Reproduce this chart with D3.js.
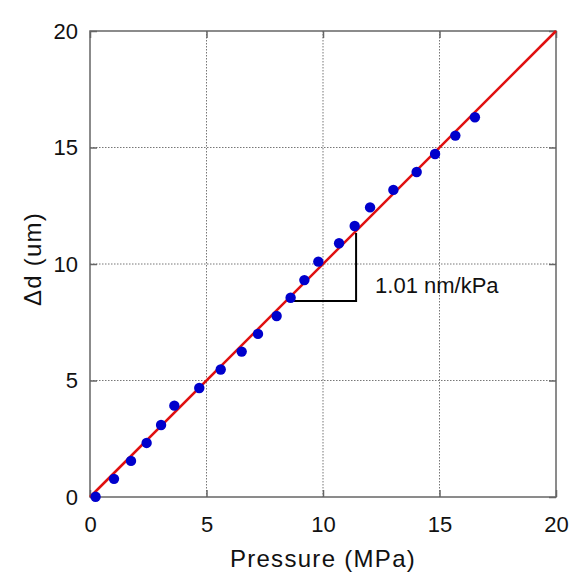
<!DOCTYPE html>
<html>
<head>
<meta charset="utf-8">
<script src="https://cdn.jsdelivr.net/npm/d3@7"></script>
<style>
  body { margin: 0; background: #fff; }
  text { font-family: "Liberation Sans", Arial, sans-serif; }
</style>
</head>
<body>
<div id="chart"></div>
<script>
// dades llegides del grafic
const pressio = [0.24, 1.03, 1.76, 2.43, 3.05, 3.62, 4.69, 5.61, 6.51, 7.21, 8.01, 8.61, 9.20, 9.80, 10.69, 11.36, 12.02, 13.02, 14.02, 14.81, 15.68, 16.52];
const deltaD = [0.01, 0.78, 1.55, 2.32, 3.09, 3.92, 4.68, 5.47, 6.24, 7.00, 7.77, 8.55, 9.31, 10.10, 10.89, 11.63, 12.43, 13.18, 13.95, 14.72, 15.51, 16.30];
const ticks = [0, 5, 10, 15, 20];
const ajust = [[0, 0], [20, 20]];
const triangle = [[8.47, 8.41], [11.42, 8.41], [11.42, 11.33]];
const etiquetaPendent = "1.01 nm/kPa";

const margin = {top: 31, right: 14, bottom: 77, left: 90};
const width = 570 - margin.left - margin.right;
const height = 574 - margin.top - margin.bottom;

const svg = d3.select("#chart")
    .append("svg")
        .attr("width", 570)
        .attr("height", 574)
    .append("g")
        .attr("transform", `translate(${margin.left}, ${margin.top})`);

const x = d3.scaleLinear().domain([0, 20]).range([0, width]);
const y = d3.scaleLinear().domain([0, 20]).range([height, 0]);

// graella puntejada
svg.append("g")
    .selectAll("line")
    .data(ticks.slice(1, 4))
    .enter().append("line")
        .attr("x1", d => x(d)).attr("x2", d => x(d))
        .attr("y1", 0).attr("y2", height)
        .attr("stroke", "#777").attr("stroke-width", 1)
        .attr("stroke-dasharray", "1.5,1.5");
svg.append("g")
    .selectAll("line")
    .data(ticks.slice(1, 4))
    .enter().append("line")
        .attr("y1", d => y(d)).attr("y2", d => y(d))
        .attr("x1", 0).attr("x2", width)
        .attr("stroke", "#777").attr("stroke-width", 1)
        .attr("stroke-dasharray", "1.5,1.5");

// eixos
function estilEix(g) {
    g.select(".domain").remove();
    g.selectAll("line").attr("stroke", "#666").attr("stroke-width", 1.5);
    g.selectAll("text").style("font-size", "22px").attr("fill", "#111");
}
svg.append("g")
    .attr("transform", `translate(0, ${height})`)
    .call(d3.axisBottom(x).tickValues(ticks).tickSizeInner(-7).tickSizeOuter(0).tickPadding(19))
    .call(estilEix);
svg.append("g")
    .call(d3.axisLeft(y).tickValues(ticks).tickSizeInner(-7).tickSizeOuter(0).tickPadding(12))
    .call(estilEix);
svg.append("g")
    .attr("transform", `translate(${width}, 0)`)
    .call(d3.axisRight(y).tickValues(ticks).tickSizeInner(-7).tickSizeOuter(0).tickFormat(""))
    .call(estilEix);
svg.append("g")
    .call(d3.axisTop(x).tickValues(ticks).tickSizeInner(-7).tickSizeOuter(0).tickFormat(""))
    .call(estilEix);

// marc
svg.append("rect")
    .attr("width", width).attr("height", height)
    .attr("fill", "none").attr("stroke", "#666").attr("stroke-width", 1.5);

// recta d'ajust
svg.append("path")
    .datum(ajust)
    .attr("d", d3.line().x(d => x(d[0])).y(d => y(d[1])))
    .attr("stroke", "#e01010").attr("stroke-width", 2.5).attr("fill", "none");

// triangle del pendent
svg.append("path")
    .datum(triangle)
    .attr("d", d3.line().x(d => x(d[0])).y(d => y(d[1])))
    .attr("stroke", "#000").attr("stroke-width", 2).attr("fill", "none");

svg.append("text")
    .attr("x", x(11.42) + 19)
    .attr("y", y(8.41) - 8)
    .style("font-size", "22px")
    .attr("fill", "#111")
    .text(etiquetaPendent);

// punts
svg.selectAll(".punt")
    .data(pressio.map((p, i) => [p, deltaD[i]]))
    .enter().append("circle")
        .attr("class", "punt")
        .attr("cx", d => x(d[0]))
        .attr("cy", d => y(d[1]))
        .attr("r", 5.2)
        .attr("fill", "#0000cc");

// titols dels eixos
svg.append("text")
    .attr("x", width / 2)
    .attr("y", height + 70)
    .attr("text-anchor", "middle")
    .style("font-size", "24px")
    .style("letter-spacing", "1.3px")
    .attr("fill", "#111")
    .text("Pressure (MPa)");

svg.append("text")
    .attr("transform", `translate(-49, ${height / 2 - 5}) rotate(-90)`)
    .attr("text-anchor", "middle")
    .style("font-size", "24px")
    .style("letter-spacing", "1.2px")
    .attr("fill", "#111")
    .text("Δd (um)");
</script>
</body>
</html>
